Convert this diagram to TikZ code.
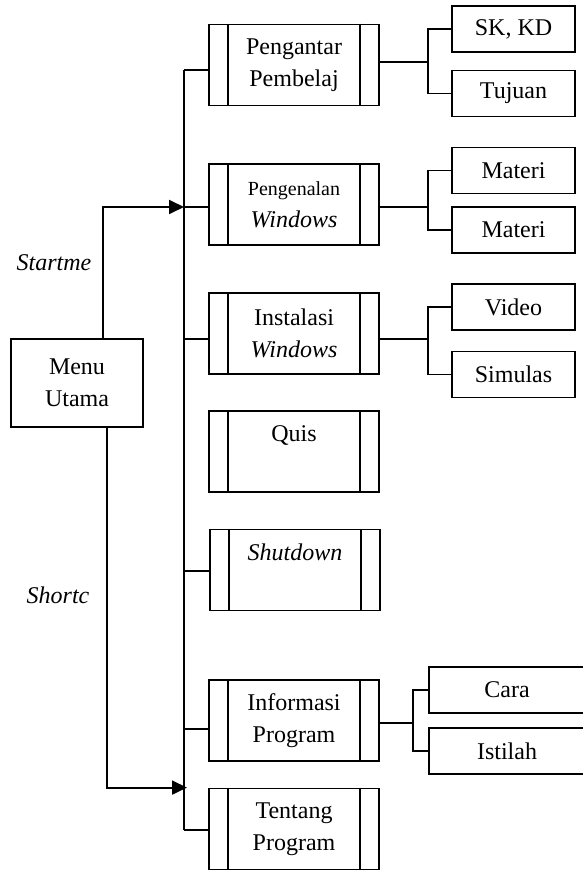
\documentclass[tikz,border=0pt]{standalone}
\usepackage{fontspec}
\setmainfont{Liberation Serif}
\usetikzlibrary{arrows.meta}

\begin{document}
\begin{tikzpicture}[x=0.5pt, y=-0.5pt, line width=0.9pt,
	every node/.style={font=\fontsize{12}{16}\selectfont, align=center},
	proses/.style={draw, minimum width=85pt, minimum height=40.5pt, inner sep=0pt},
	subbox/.style={draw, minimum width=61.5pt, minimum height=23pt, inner sep=0pt},
	>={Triangle[length=7.5pt, width=7pt]}]
	\useasboundingbox (0,0) rectangle (582,870);
	\coordinate (trunk) at (184,0);
	% menu utama and the main boxes
	\node[draw, minimum width=66pt, minimum height=44pt] (menu) at (77,383) {Menu\\Utama};
	\node[proses] (pengantar) at (294,65) {Pengantar\\Pembelaj};
	\node[proses] (pengenalan) at (294,204.5) {{\fontsize{10}{16}\selectfont Pengenalan}\\\textit{Windows}};
	\node[proses] (instalasi) at (294,333.5) {Instalasi\\\textit{Windows}};
	\node[proses] (quis) at (294,451.5) {Quis\\\phantom{Q}};
	\node[proses] (shutdown) at (295,570) {\textit{Shutdown}\\\phantom{Q}};
	\node[proses] (informasi) at (294,720.5) {Informasi\\Program};
	\node[proses] (tentang) at (294,829) {Tentang\\Program};
	\foreach \n in {pengantar,pengenalan,instalasi,quis,shutdown,informasi,tentang} {
		\draw ([xshift=10pt]\n.north west) -- ([xshift=10pt]\n.south west);
		\draw ([xshift=-10pt]\n.north east) -- ([xshift=-10pt]\n.south east);
	}
	% sub menus
	\node[subbox] (skkd) at (513.5,29) {SK, KD};
	\node[subbox] (tujuan) at (513.5,93.5) {Tujuan};
	\node[subbox] (materia) at (513.5,170.5) {Materi};
	\node[subbox] (materib) at (513.5,230) {Materi};
	\node[subbox] (video) at (513.5,307) {Video};
	\node[subbox] (simulasi) at (513.5,374.5) {Simulas};
	\node[subbox, minimum width=78pt] (cara) at (507,690) {Cara};
	\node[subbox, minimum width=78pt] (istilah) at (507,751) {Istilah};
	% trunk and branches
	\draw ([yshift=-2.5pt]pengantar.west -| trunk) -- ([yshift=-0.5pt]tentang.west -| trunk);
	\foreach \n/\dy in {pengantar/-2.5,pengenalan/-1.25,instalasi/-2.75,shutdown/-0.5,informasi/-4.25,tentang/-0.5}
		\draw ([yshift=\dy pt]\n.west) -- ([yshift=\dy pt]\n.west -| trunk);
	\draw ([yshift=1.5pt]pengantar.east) -- ++(48,0) coordinate (j1);
	\draw (skkd.west) -| (j1) |- (tujuan.west);
	\draw ([yshift=-1.25pt]pengenalan.east) -- ++(48,0) coordinate (j2);
	\draw (materia.west) -| (j2) |- (materib.west);
	\draw ([yshift=-2.75pt]instalasi.east) -- ++(48,0) coordinate (j3);
	\draw (video.west) -| (j3) |- (simulasi.west);
	\draw ([yshift=-1.25pt]informasi.east) -- ++(33,0) coordinate (j4);
	\draw (cara.west) -| (j4) |- (istilah.west);
	% start and shortcut arrows
	\draw[->] ([xshift=13pt]menu.north) |- ([yshift=-1.25pt]pengenalan.west -| trunk);
	\draw[->] ([xshift=15pt]menu.south) |- ([xshift=1.5pt]tentang.north west -| trunk);
	\node[font=\fontsize{12}{16}\selectfont\itshape] (startme) at (54,263) {Startme};
	\node[font=\fontsize{12}{16}\selectfont\itshape] (shortc) at (58,595) {Shortc};
\end{tikzpicture}
\end{document}
